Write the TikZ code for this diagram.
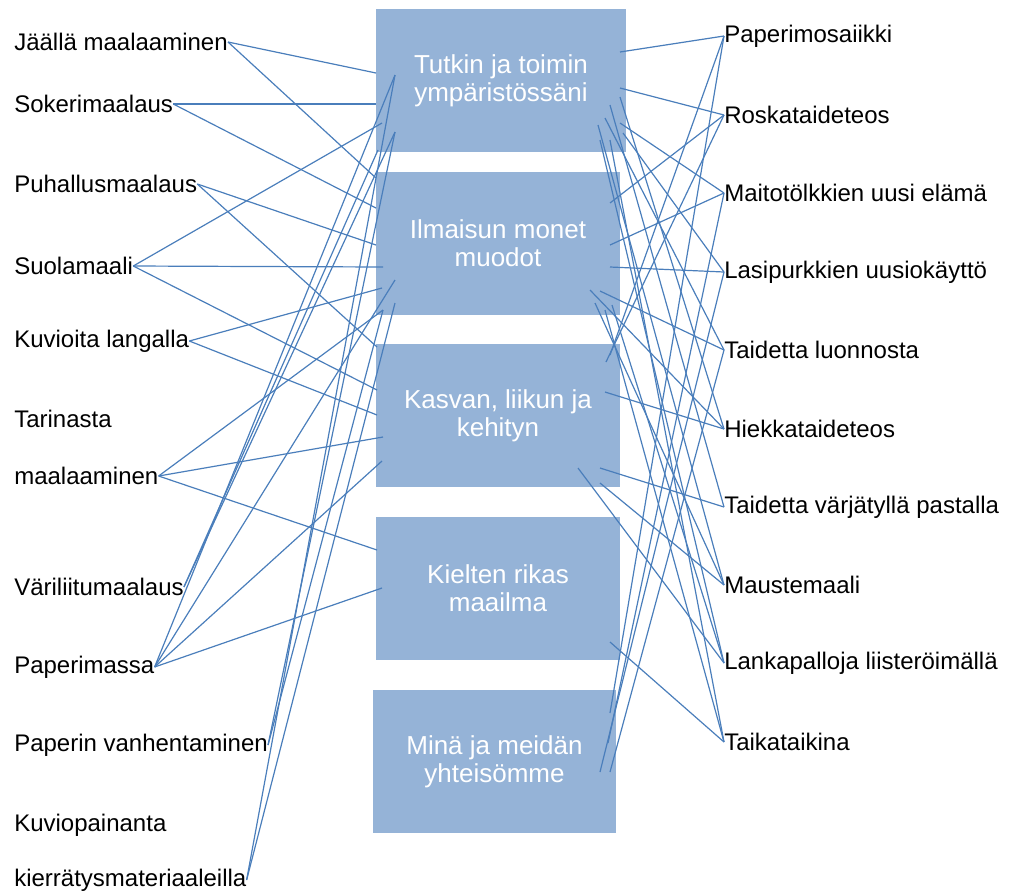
\documentclass[tikz,border=0pt]{standalone}
\usepackage{fontspec}
\setmainfont{Liberation Sans}
\definecolor{boxfill}{HTML}{95B3D7}
\definecolor{linec}{HTML}{4A7EBB}
\begin{document}
\begin{tikzpicture}[x=0.75pt,y=-0.75pt,
  lbl/.style={inner sep=0pt,font=\fontsize{18}{20}\selectfont,text=black},
  lleft/.style={lbl,anchor=west},
  lright/.style={lbl,anchor=west},
  topic/.style={fill=boxfill,draw=none,inner sep=0pt,minimum height=107.25pt,
    align=center,text=white,font=\fontsize{19.5}{21}\selectfont},
  con/.style={draw=linec,line width=0.9pt}]
\useasboundingbox (0,0) rectangle (1013,894);
% topic boxes
\node[topic,minimum width=187.5pt] (b1) at (501,80.5) {Tutkin ja toimin\\ympäristössäni};
\node[topic,minimum width=183pt] (b2) at (498,243.5) {Ilmaisun monet\\muodot};
\node[topic,minimum width=183pt] (b3) at (498,415.5) {Kasvan, liikun ja\\kehityn};
\node[topic,minimum width=183pt] (b4) at (498,588.5) {Kielten rikas\\maailma};
\node[topic,minimum width=182.25pt] (b5) at (494.5,761.5) {Minä ja meidän\\yhteisömme};
% left labels
\node[lleft] (jaa) at (14,42) {Jäällä maalaaminen};
\node[lleft] (sok) at (14,104) {Sokerimaalaus};
\node[lleft] (puh) at (14,184) {Puhallusmaalaus};
\node[lleft] (suo) at (14,266) {Suolamaali};
\node[lleft] (kuv) at (14,341) {Kuvioita langalla};
\node[lleft] (tar) at (14,419) {Tarinasta};
\node[lleft] (maa) at (14,476) {maalaaminen};
\node[lleft] (var) at (14,587) {Väriliitumaalaus};
\node[lleft] (pam) at (14,667) {Paperimassa};
\node[lleft] (pva) at (14,745) {Paperin vanhentaminen};
\node[lleft] (kup) at (14,825) {Kuviopainanta};
\node[lleft] (kie) at (14,880) {kierrätysmateriaaleilla};
% right labels
\node[lright] (pmo) at (724,36) {Paperimosaiikki};
\node[lright] (ros) at (724,115) {Roskataideteos};
\node[lright] (mai) at (724,193) {Maitotölkkien uusi elämä};
\node[lright] (las) at (724,272) {Lasipurkkien uusiokäyttö};
\node[lright] (tlu) at (724,350) {Taidetta luonnosta};
\node[lright] (hie) at (724,429) {Hiekkataideteos};
\node[lright] (tva) at (724,507) {Taidetta värjätyllä pastalla};
\node[lright] (mau) at (724,585) {Maustemaali};
\node[lright] (lan) at (724,663) {Lankapalloja liisteröimällä};
\node[lright] (tai) at (724,742) {Taikataikina};
% connector end points on the boxes (left side)
\coordinate (b1l1) at (376,73);
\coordinate (b1l2) at (376,104);
\coordinate (b1l3) at (382,123);
\coordinate (b1l4) at (395,75);
\coordinate (b1l5) at (395,132);
\coordinate (b1l6) at (378,150);
\coordinate (b2l1) at (376,178);
\coordinate (b2l2) at (376,208);
\coordinate (b2l3) at (376,245);
\coordinate (b2l4) at (383,267);
\coordinate (b2l5) at (382,288);
\coordinate (b2l6) at (395,280);
\coordinate (b2l7) at (383,310);
\coordinate (b2l8) at (395,303);
\coordinate (b3l1) at (377,347);
\coordinate (b3l2) at (377,390);
\coordinate (b3l3) at (377,415);
\coordinate (b3l4) at (383,437);
\coordinate (b3l5) at (382,461);
\coordinate (b4l1) at (377,550);
\coordinate (b4l2) at (382,588);
% right side
\coordinate (b1r1) at (620,52);
\coordinate (b1r2) at (620,88);
\coordinate (b1r3) at (620,123);
\coordinate (b1r4) at (623,133);
\coordinate (b1r5) at (620,97);
\coordinate (b1r6) at (610,105);
\coordinate (b1r7) at (600,140);
\coordinate (b1r8) at (610,140);
\coordinate (b1r9) at (605,118);
\coordinate (b1r10) at (598,125);
\coordinate (b2r1) at (610,203);
\coordinate (b2r2) at (610,245);
\coordinate (b2r3) at (610,267);
\coordinate (b2r4) at (600,291);
\coordinate (b2r5) at (595,303);
\coordinate (b2r6) at (605,310);
\coordinate (b2r7) at (590,290);
\coordinate (b2r8) at (612,305);
\coordinate (b3r0) at (610,355);
\coordinate (b3r5) at (606,362);
\coordinate (b3r1) at (605,392);
\coordinate (b3r2) at (600,468);
\coordinate (b3r3) at (600,483);
\coordinate (b3r4) at (578,468);
\coordinate (b4r1) at (610,642);
\coordinate (b5r1) at (610,713);
\coordinate (b5r2) at (608,743);
\coordinate (b5r3) at (600,772);
\coordinate (b5r4) at (610,772);
% left connectors
\draw[con] (jaa.east) -- (b1l1);
\draw[con] (jaa.east) -- (b2l1);
\draw[con] (sok.east) -- (b1l2);
\draw[con] (sok.east) -- (b2l2);
\draw[con] (puh.east) -- (b2l3);
\draw[con] (puh.east) -- (b3l1);
\draw[con] (suo.east) -- (b1l3);
\draw[con] (suo.east) -- (b2l4);
\draw[con] (suo.east) -- (b3l2);
\draw[con] (kuv.east) -- (b2l5);
\draw[con] (kuv.east) -- (b3l3);
\draw[con] (maa.east) -- (b2l7);
\draw[con] (maa.east) -- (b3l4);
\draw[con] (maa.east) -- (b4l1);
\draw[con] (pam.east) -- (b3l5);
\draw[con] (pam.east) -- (b4l2);
\draw[con] (pam.east) -- (b1l4);
\draw[con] (pam.east) -- (b2l6);
\draw[con] (var.east) -- (b1l6);
\draw[con] (var.east) -- (b1l5);
\draw[con] (pva.east) -- (b1l5);
\draw[con] (pva.east) -- (b2l7);
\draw[con] (kie.east) -- (b1l4);
\draw[con] (kie.east) -- (b2l8);
% right connectors
\draw[con] (b1r1) -- (pmo.west);
\draw[con] (b1r2) -- (ros.west);
\draw[con] (b1r3) -- (mai.west);
\draw[con] (b1r4) -- (las.west);
\draw[con] (b1r5) -- (hie.west);
\draw[con] (b1r6) -- (tva.west);
\draw[con] (b1r7) -- (lan.west);
\draw[con] (b1r8) -- (tai.west);
\draw[con] (b1r9) -- (tlu.west);
\draw[con] (b1r10) -- (mau.west);
\draw[con] (b2r1) -- (ros.west);
\draw[con] (b2r2) -- (mai.west);
\draw[con] (b2r3) -- (las.west);
\draw[con] (b2r4) -- (tlu.west);
\draw[con] (b2r5) -- (mau.west);
\draw[con] (b2r6) -- (tai.west);
\draw[con] (b2r7) -- (hie.west);
\draw[con] (b2r8) -- (lan.west);
\draw[con] (b3r0) -- (pmo.west);
\draw[con] (b3r5) -- (ros.west);
\draw[con] (b3r1) -- (hie.west);
\draw[con] (b3r2) -- (tva.west);
\draw[con] (b3r3) -- (mau.west);
\draw[con] (b3r4) -- (lan.west);
\draw[con] (b4r1) -- (tai.west);
\draw[con] (b5r1) -- (pmo.west);
\draw[con] (b5r2) -- (mai.west);
\draw[con] (b5r3) -- (las.west);
\draw[con] (b5r4) -- (tlu.west);
\end{tikzpicture}
\end{document}
